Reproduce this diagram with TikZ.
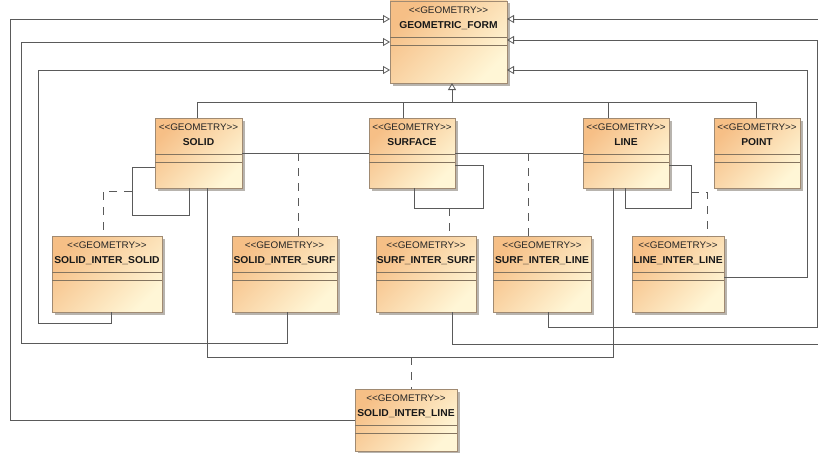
\documentclass[tikz,border=0pt]{standalone}
\usepackage{fontspec}
\setmainfont{Liberation Sans}[FakeStretch=1.03]
\usetikzlibrary{arrows.meta,calc}

\definecolor{boxtop}{HTML}{F6BF86}
\definecolor{boxbot}{HTML}{FFF6D6}
\definecolor{boxedge}{HTML}{A08A72}
\definecolor{boxdiv}{HTML}{84745F}
\definecolor{shadowgray}{HTML}{B8B4AE}
\definecolor{wire}{HTML}{5A5A5A}

\tikzset{
  clsbox/.style={draw=boxedge, line width=0.8pt, rectangle, inner sep=0pt, outer sep=0pt,
    top color=boxtop, bottom color=boxbot, shading angle=45},
  boxshadow/.style={fill=shadowgray},
  stereo/.style={inner sep=0pt, font=\fontsize{9.6}{10}\selectfont, text=black!85},
  cname/.style={inner sep=0pt, font=\fontsize{10}{11}\selectfont\bfseries, text=black!90},
  divider/.style={draw=boxdiv, line width=0.7pt},
  conn/.style={draw=wire, line width=0.9pt},
  gen/.style={conn, -{Triangle[open, length=7pt, width=8pt, line width=0.8pt]}},
  assoccls/.style={conn, dash pattern=on 8pt off 7pt},
}

% class box: name, left, top, width, height, title
\newcommand\umlbox[6]{%
  \fill[boxshadow] (#2+2.5,#3+2.5) rectangle ++(#4,#5);
  \node[clsbox, minimum width=#4pt, minimum height=#5pt, anchor=north west] (#1) at (#2,#3) {};
  \node[stereo] (#1-st) at ($(#1.north)+(0,9.5)$) {<\kern0pt<GEOMETRY>\kern0pt>};
  \node[cname] (#1-nm) at ($(#1.north)+(0,24.5)$) {#6};
  \draw[divider] ($(#1.north west)+(0,36)$) -- ($(#1.north east)+(0,36)$);
  \draw[divider] ($(#1.north west)+(0,44)$) -- ($(#1.north east)+(0,44)$);
}

\begin{document}
\begin{tikzpicture}[x=1pt, y=-1pt]
\useasboundingbox (0,0) rectangle (818,452);
\fill[white] (0,0) rectangle (818,452);
\clip (0,0) rectangle (818,452);

% classes
\umlbox{gf}{390}{1}{117}{82}{GEOMETRIC\_FORM}
\umlbox{sol}{155}{118}{87}{70}{SOLID}
\umlbox{surf}{369}{118}{86}{70}{SURFACE}
\umlbox{line}{583}{118}{86}{70}{LINE}
\umlbox{point}{714}{118}{86}{70}{POINT}
\umlbox{sisol}{52}{236}{110}{76}{SOLID\_INTER\_SOLID}
\umlbox{sisurf}{232}{236}{105}{76}{SOLID\_INTER\_SURF}
\umlbox{ssurf}{376}{236}{100}{76}{SURF\_INTER\_SURF}
\umlbox{sline}{493}{236}{98}{76}{SURF\_INTER\_LINE}
\umlbox{lline}{632}{236}{92}{76}{LINE\_INTER\_LINE}
\umlbox{soline}{355}{389}{102}{62}{SOLID\_INTER\_LINE}

% generalization tree under GEOMETRIC_FORM
\draw[conn] (sol.north -| 197,0) -- (197,102) -- (756,102) -- (point.north -| 756,0);
\draw[conn] (surf.north -| 403,0) -- (403,102);
\draw[conn] (line.north -| 608,0) -- (608,102);
\draw[gen] (452,102) -- (gf.south -| 452,0);

% generalizations routed on the left
\draw[gen] (soline.west |- 0,420) -- (10,420) -- (10,19) -- (gf.west |- 0,19);
\draw[gen] (sisurf.south -| 287,0) -- (287,343) -- (21,343) -- (21,42) -- (gf.west |- 0,42);
\draw[gen] (sisol.south -| 111,0) -- (111,323) -- (38,323) -- (38,70) -- (gf.west |- 0,70);

% generalizations routed on the right
\draw[gen] (ssurf.south -| 452,0) -- (452,344) -- (823,344) -- (823,19) -- (gf.east |- 0,19);
\draw[gen] (sline.south -| 548,0) -- (548,327) -- (817,327) -- (817,40) -- (gf.east |- 0,40);
\draw[gen] (lline.east |- 0,277) -- (807,277) -- (807,70) -- (gf.east |- 0,70);

% associations
\draw[conn] (sol.east |- 0,153) -- (surf.west |- 0,153);
\draw[conn] (surf.east |- 0,153) -- (line.west |- 0,153);
\draw[conn] (sol.south -| 207,0) -- (207,357) -- (613,357) -- (line.south -| 613,0);
\draw[conn] (sol.west |- 0,167) -- (132,167) -- (132,215) -- (189,215) -- (sol.south -| 189,0);
\draw[conn] (surf.east |- 0,165) -- (483,165) -- (483,208) -- (414,208) -- (surf.south -| 414,0);
\draw[conn] (line.east |- 0,165) -- (691,165) -- (691,208) -- (625,208) -- (line.south -| 625,0);

% association classes
\draw[assoccls] (132,191) -- (103,191) -- (sisol.north -| 103,0);
\draw[assoccls] (298,153) -- (sisurf.north -| 298,0);
\draw[assoccls] (449,208) -- (ssurf.north -| 449,0);
\draw[assoccls] (528,153) -- (sline.north -| 528,0);
\draw[assoccls] (691,192) -- (707,192) -- (lline.north -| 707,0);
\draw[assoccls] (411,357) -- (soline.north -| 411,0);
\end{tikzpicture}
\end{document}
